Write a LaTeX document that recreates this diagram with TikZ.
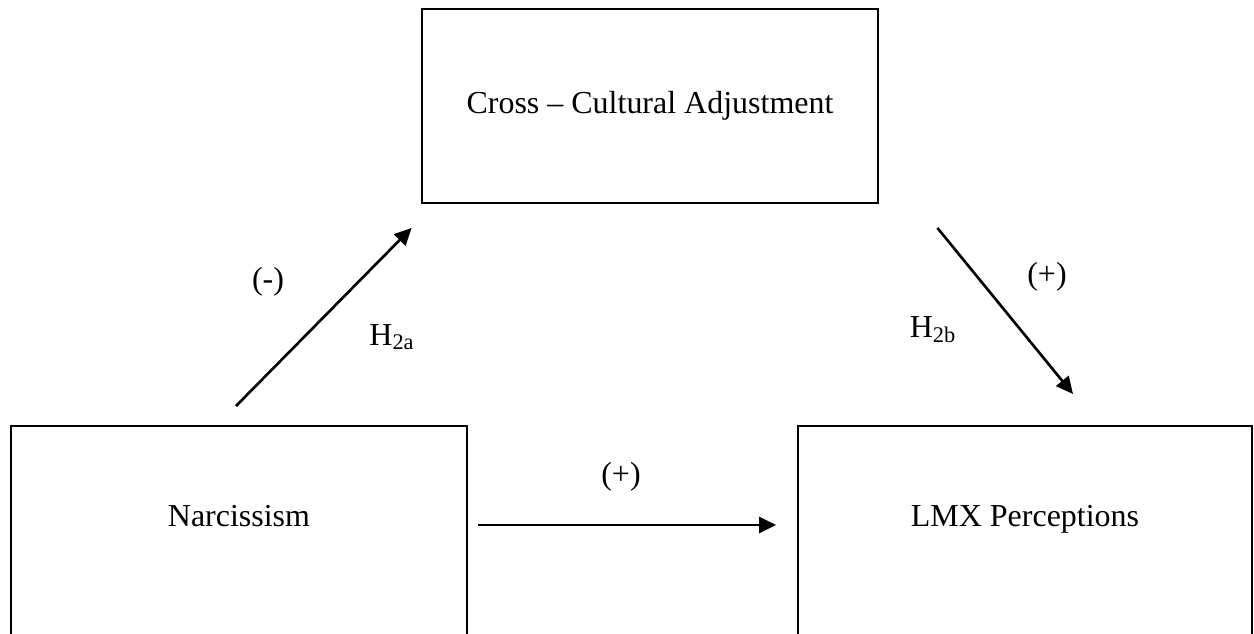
\documentclass[tikz,border=0pt]{standalone}
\usepackage{fontspec}
\setmainfont{Liberation Serif}
\usetikzlibrary{arrows.meta}

\begin{document}
\begin{tikzpicture}[x=0.02cm, y=-0.02cm,
    every node/.style={font=\fontsize{18.2}{22}\selectfont},
    box/.style={draw, line width=1.1pt, inner sep=0pt},
    lowbox/.style={box, anchor=north, text height=2.02cm, text depth=3.5cm},
    link/.style={-{Triangle[length=0.34cm,width=0.32cm]}, line width=1.5pt}]
  \useasboundingbox (0,0) rectangle (1254,633);
  \clip (0,0) rectangle (1254,633);
  \node[box, minimum width=9.14cm, minimum height=3.88cm] (cca) at (650,106)
       {Cross – Cultural Adjustment};
  \node[lowbox, minimum width=9.12cm] (narc) at (239,425) {Narcissism};
  \node[lowbox, minimum width=9.08cm] (lmx) at (1025,425) {LMX Perceptions};
  % paths
  \draw[link] ([shift={(-3,-19)}]narc.north) -- ([shift={(-9,24)}]cca.south west);
  \draw[link] ([shift={(58,24)}]cca.south east) -- ([shift={(48,-31)}]lmx.north);
  \draw[link] ([shift={(10,-2)}]narc.base east) -- ([shift={(-21,-2)}]lmx.base west);
  % signs and hypotheses
  \node (sgnA) at (268,282) {(-)};
  \node (hypA) at (392,337) {H\textsubscript{2a}};
  \node (sgnB) at (1047,277) {(+)};
  \node (hypB) at (933,330) {H\textsubscript{2b}};
  \node (sgnC) at (621,477) {(+)};
\end{tikzpicture}
\end{document}
